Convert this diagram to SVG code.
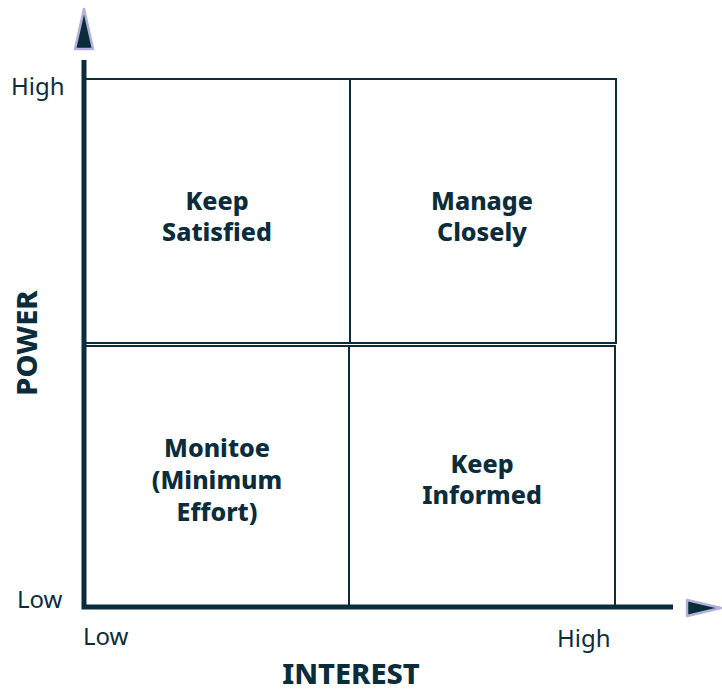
<svg xmlns="http://www.w3.org/2000/svg" width="722" height="693" viewBox="0 0 722 693">
<style>
.box{fill:none;stroke:#0b2d3b;stroke-width:2}
.axis{stroke:#0b2d3b;stroke-width:5;fill:none}
.arrow{fill:#0b2d3b;stroke:#b4b0dc;stroke-width:2.5;stroke-linejoin:round}
.q{font-family:"Noto Sans",sans-serif;font-weight:800;font-size:25px;fill:#0b2d3b;text-anchor:middle}
.lab{font-family:"Noto Sans",sans-serif;font-size:24px;fill:#0b2d3b}
.ax{font-family:"Noto Sans",sans-serif;font-weight:800;font-size:29px;fill:#0b2d3b;text-anchor:middle}
</style>
<rect width="722" height="693" fill="#ffffff"/>
<g id="q-keep-satisfied">
<rect class="box" x="85" y="79" width="265" height="264"/>
<text class="q" x="217" y="210">Keep</text>
<text class="q" x="217" y="241">Satisfied</text>
</g>
<g id="q-manage-closely">
<rect class="box" x="350" y="79" width="266" height="264"/>
<text class="q" x="482" y="210">Manage</text>
<text class="q" x="482" y="241">Closely</text>
</g>
<g id="q-monitor">
<rect class="box" x="85" y="346" width="264" height="261"/>
<text class="q" x="217" y="457">Monitoe</text>
<text class="q" x="217" y="489">(Minimum</text>
<text class="q" x="217" y="521">Effort)</text>
</g>
<g id="q-keep-informed">
<rect class="box" x="349" y="346" width="266" height="261"/>
<text class="q" x="482" y="473">Keep</text>
<text class="q" x="482" y="504">Informed</text>
</g>
<g id="connectors">
<polyline class="axis" points="84,60 84,607 673,607"/>
<polygon class="arrow" points="84,9 93,49 75,49"/>
<polygon class="arrow" points="721,608 687,600 687,616"/>
</g>
<g id="labels">
<text class="lab" x="11" y="95">High</text>
<text class="lab" x="17" y="608">Low</text>
<text class="lab" x="83" y="645">Low</text>
<text class="lab" x="557" y="647">High</text>
<text class="ax" x="351" y="684">INTEREST</text>
<text class="ax" transform="translate(37,343) rotate(-90)">POWER</text>
</g>
</svg>
